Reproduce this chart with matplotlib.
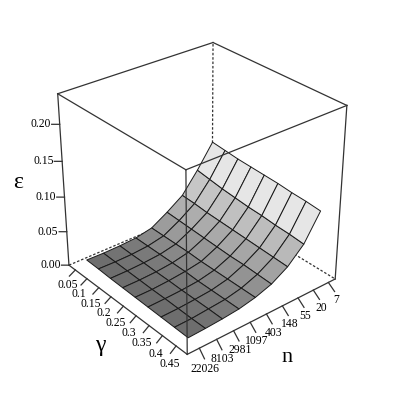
import numpy as np
import matplotlib
matplotlib.use('Agg')
import matplotlib.pyplot as plt

plt.rcParams['font.family'] = ['Liberation Serif', 'DejaVu Serif']

n_labels = ['7', '20', '55', '148', '403', '1097', '2981', '8103', '22026']
log_n = [2, 3, 4, 5, 6, 7, 8, 9, 10]
gamma = [0.05, 0.1, 0.15, 0.2, 0.25, 0.3, 0.35, 0.4, 0.45]
gamma_labels = ['0.05', '0.1', '0.15', '0.2', '0.25', '0.3', '0.35', '0.4', '0.45']
eps_ticks = [0.0, 0.05, 0.10, 0.15, 0.20]

# epsilon, one row per n, one column per gamma
eps = np.array([
    [0.106, 0.104, 0.102, 0.101, 0.100, 0.099, 0.097, 0.096, 0.094],
    [0.073, 0.070, 0.067, 0.065, 0.063, 0.062, 0.060, 0.059, 0.057],
    [0.044, 0.043, 0.041, 0.040, 0.039, 0.038, 0.037, 0.036, 0.035],
    [0.028, 0.027, 0.026, 0.025, 0.024, 0.023, 0.023, 0.022, 0.021],
    [0.014, 0.014, 0.014, 0.014, 0.013, 0.013, 0.013, 0.013, 0.013],
    [0.009, 0.009, 0.009, 0.009, 0.009, 0.008, 0.008, 0.008, 0.008],
    [0.0075, 0.007, 0.007, 0.0065, 0.0065, 0.006, 0.006, 0.006, 0.0056],
    [0.007, 0.0065, 0.006, 0.0055, 0.005, 0.005, 0.0045, 0.004, 0.004],
    [0.0075, 0.007, 0.006, 0.0055, 0.005, 0.0045, 0.004, 0.0035, 0.003],
])
strip_gray = [0.90, 0.75, 0.66, 0.59, 0.53, 0.48, 0.45, 0.43]
strip_tilt = [0.0, 0.05, 0.05, 0.04, 0.02, 0.0, 0.0, 0.0]

x0, x1 = 1.54, 10.69
y0, y1 = 0.022, 0.49
z0, z1 = 0.0, 0.24

fig = plt.figure(figsize=(4.05, 4.05), dpi=100)
ax = fig.add_axes([-0.0175, 0.019, 1, 1], projection='3d')
ax.computed_zorder = False
ax.set_proj_type('persp', focal_length=0.55)
ax.view_init(elev=30, azim=-129.7)
ax.set_xlim(x1, x0, view_margin=0)
ax.set_ylim(y1, y0, view_margin=0)
ax.set_zlim(z0, z1, view_margin=0)
ax.set_box_aspect((1, 1, 1.01), zoom=0.82)
ax.set_axis_off()

line = dict(color='#333333', lw=0.9)
# hidden edges
for a, b, c in [([x0, x0], [y0, y0], [z0, z1]), ([x0, x1], [y0, y0], [z0, z0]),
                ([x0, x0], [y0, y1], [z0, z0])]:
    ax.plot(a, b, c, ls=(0, (2, 1.5)), zorder=1, **line)

X, Y = np.meshgrid(log_n, gamma, indexing='ij')
faces = np.ones(eps.shape + (4,))
for i, g in enumerate(strip_gray):
    for j in range(len(gamma)):
        faces[i, j, :3] = g + strip_tilt[i] * (0.5 - j / 7)
ax.plot_surface(X, Y, eps, rstride=1, cstride=1, facecolors=faces, shade=False,
                edgecolor='#1a1a1a', linewidth=0.7, zorder=2)

# visible edges
for a, b, c in [([x0, x1], [y1, y1], [z0, z0]), ([x1, x1], [y0, y1], [z0, z0]),
                ([x0, x0], [y1, y1], [z0, z1]), ([x1, x1], [y1, y1], [z0, z1]),
                ([x1, x1], [y0, y0], [z0, z1]),
                ([x0, x1], [y0, y0], [z1, z1]), ([x0, x1], [y1, y1], [z1, z1]),
                ([x0, x0], [y0, y1], [z1, z1]), ([x1, x1], [y0, y1], [z1, z1])]:
    ax.plot(a, b, c, zorder=3, **line)

for v, s in zip(log_n, n_labels):
    ax.plot([v, v + 0.31], [y1, y1 + 0.037], [z0, z0], zorder=3, **line)
    ax.text(v + 0.73, y1 + 0.064, z0, s, ha='center', va='center', fontsize=8.4)
for v, s in zip(gamma, gamma_labels):
    ax.plot([x1, x1 + 0.52], [v, v + 0.013], [z0, z0], zorder=3, **line)
    ax.text(x1 + 1.03, v + 0.043, z0, s, ha='center', va='center', fontsize=8.4)
for v in eps_ticks:
    ax.plot([x1, x1 + 0.28], [y0, y0 - 0.012], [v, v], zorder=3, **line)
    ax.text(x1 + 0.30, y0 - 0.0135, v, f'{v:.2f}', ha='right', va='center', fontsize=8.4)

fig.text(100 / 405, 1 - 346 / 405, 'γ', ha='center', va='center', fontsize=17)
fig.text(287 / 405, 1 - 358 / 405, 'n', ha='center', va='center', fontsize=16)
fig.text(18 / 405, 1 - 182 / 405, 'ε', ha='center', va='center', fontsize=17)

fig.savefig('out.png', dpi=100)
